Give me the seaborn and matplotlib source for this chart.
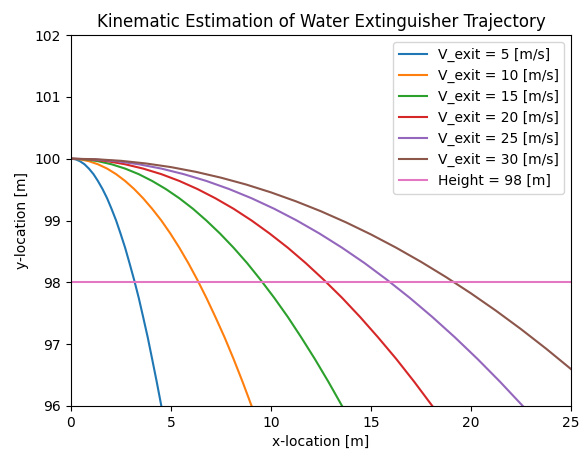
import pandas as pd
import seaborn as sns
import matplotlib.pyplot as plt

labels = ["V_exit = 5 [m/s]", "V_exit = 10 [m/s]", "V_exit = 15 [m/s]",
          "V_exit = 20 [m/s]", "V_exit = 25 [m/s]", "V_exit = 30 [m/s]"]

y_drop4 = [100, 99.99, 99.96, 99.91, 99.84, 99.75, 99.64, 99.51, 99.36, 99.19, 99.0,
           98.79, 98.56, 98.31, 98.04, 97.75, 97.44, 97.11, 96.76, 96.39, 96.0]
y_v30 = [100, 99.9915, 99.966, 99.923, 99.864, 99.787, 99.693, 99.583, 99.455, 99.310,
         99.149, 98.970, 98.774, 98.561, 98.331, 98.084, 97.820, 97.539, 97.241, 96.926,
         96.594]

x_v5 = [0, 0.23, 0.45, 0.68, 0.90, 1.13, 1.35, 1.58, 1.81, 2.03, 2.26,
        2.48, 2.71, 2.93, 3.16, 3.39, 3.61, 3.84, 4.06, 4.29, 4.52]
x_v10 = [0, 0.45, 0.90, 1.35, 1.81, 2.26, 2.71, 3.16, 3.61, 4.06, 4.52,
         4.97, 5.42, 5.87, 6.32, 6.77, 7.22, 7.68, 8.13, 8.58, 9.03]
x_v15 = [0, 0.68, 1.35, 2.03, 2.71, 3.39, 4.06, 4.74, 5.42, 6.10, 6.77,
         7.45, 8.13, 8.81, 9.48, 10.16, 10.84, 11.51, 12.19, 12.87, 13.55]
x_v20 = [0, 0.90, 1.81, 2.71, 3.61, 4.52, 5.42, 6.32, 7.22, 8.13, 9.03,
         9.93, 10.84, 11.74, 12.64, 13.55, 14.45, 15.35, 16.26, 17.16, 18.06]
x_v25 = [0, 1.13, 2.26, 3.39, 4.52, 5.64, 6.77, 7.90, 9.03, 10.16, 11.29,
         12.42, 13.55, 14.68, 15.80, 16.93, 18.06, 19.19, 20.32, 21.45, 22.58]
x_v30 = [0, 1.25, 2.5, 3.75, 5, 6.25, 7.5, 8.75, 10, 11.25, 12.5,
         13.75, 15, 16.25, 17.5, 18.75, 20, 21.25, 22.5, 23.75, 25]

height_label = "Height = 98 [m]"
height_x = [0, 25]
height_y = [98, 98]

xs = [x_v5, x_v10, x_v15, x_v20, x_v25, x_v30]
ys = [y_drop4, y_drop4, y_drop4, y_drop4, y_drop4, y_v30]

colors = sns.color_palette("tab10")

fig, ax = plt.subplots(figsize=(5.81, 4.5), dpi=100)
for i, (lab, x, y) in enumerate(zip(labels, xs, ys)):
    df = pd.DataFrame({"x": x, "y": y})
    sns.lineplot(data=df, x="x", y="y", ax=ax, color=colors[i], label=lab,
                 sort=False, estimator=None)
sns.lineplot(x=height_x, y=height_y, ax=ax, color=colors[6], label=height_label,
             estimator=None)

ax.set_xlim(0, 25)
ax.set_ylim(96, 102)
ax.set_xlabel("x-location [m]")
ax.set_ylabel("y-location [m]")
ax.set_title("Kinematic Estimation of Water Extinguisher Trajectory")
ax.legend(loc="upper right")
fig.subplots_adjust(left=0.122, right=0.983, top=0.922, bottom=0.098)
fig.savefig("out.png")
